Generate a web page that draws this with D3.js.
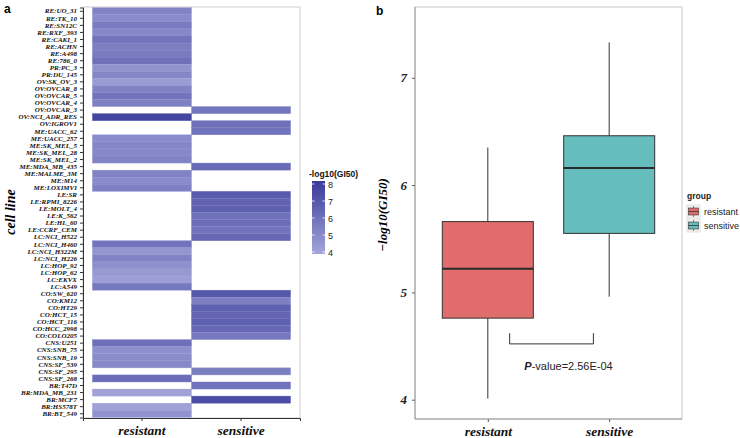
<!DOCTYPE html>
<html><head><meta charset="utf-8">
<script src="https://cdn.jsdelivr.net/npm/d3@7"></script>
<style>body{margin:0;background:#fff}svg{display:block}</style>
</head><body>
<svg id="c" width="740" height="438"></svg>
<script>
// ---------- data ----------
const cellLines = ["RE:UO_31","RE:TK_10","RE:SN12C","RE:RXF_393","RE:CAKI_1","RE:ACHN","RE:A498","RE:786_0","PR:PC_3","PR:DU_145","OV:SK_OV_3","OV:OVCAR_8","OV:OVCAR_5","OV:OVCAR_4","OV:OVCAR_3","OV:NCI_ADR_RES","OV:IGROV1","ME:UACC_62","ME:UACC_257","ME:SK_MEL_5","ME:SK_MEL_28","ME:SK_MEL_2","ME:MDA_MB_435","ME:MALME_3M","ME:M14","ME:LOXIMVI","LE:SR","LE:RPMI_8226","LE:MOLT_4","LE:K_562","LE:HL_60","LE:CCRF_CEM","LC:NCI_H522","LC:NCI_H460","LC:NCI_H322M","LC:NCI_H226","LC:HOP_92","LC:HOP_62","LC:EKVX","LC:A549","CO:SW_620","CO:KM12","CO:HT29","CO:HCT_15","CO:HCT_116","CO:HCC_2998","CO:COLO205","CNS:U251","CNS:SNB_75","CNS:SNB_19","CNS:SF_539","CNS:SF_295","CNS:SF_268","BR:T47D","BR:MDA_MB_231","BR:MCF7","BR:HS578T","BR:BT_549"];
const cellGroup = ["resistant","resistant","resistant","resistant","resistant","resistant","resistant","resistant","resistant","resistant","resistant","resistant","resistant","resistant","sensitive","resistant","sensitive","sensitive","resistant","resistant","resistant","resistant","sensitive","resistant","resistant","resistant","sensitive","sensitive","sensitive","sensitive","sensitive","sensitive","sensitive","resistant","resistant","resistant","resistant","resistant","resistant","resistant","sensitive","sensitive","sensitive","sensitive","sensitive","sensitive","sensitive","resistant","resistant","resistant","resistant","sensitive","resistant","sensitive","resistant","sensitive","resistant","resistant"];
const cellValue = [5.3,5.0,5.6,5.1,5.9,5.5,5.6,6.0,4.7,5.2,4.4,5.3,5.9,5.4,5.8,7.6,6.0,5.9,5.0,5.2,5.1,5.3,6.2,5.3,5.0,5.4,6.8,6.5,6.6,6.0,6.1,5.9,6.3,5.9,4.6,5.3,4.8,4.5,4.3,5.7,6.9,5.4,6.6,6.4,6.6,6.3,5.7,6.0,4.8,5.0,5.1,5.5,6.1,5.9,4.2,7.3,4.2,4.7];
const groups = ["resistant","sensitive"];
const legendTicks = [4,5,6,7,8];
// box plot statistics (-log10 GI50)
const boxLow    = [4.01, 4.96];
const boxQ1     = [4.76, 5.55];
const boxMedian = [5.22, 6.16];
const boxQ3     = [5.66, 6.46];
const boxHigh   = [6.35, 7.33];
const boxTicks = [4,5,6,7];
const groupColors = ["#E06C6B","#65BDBD"];
const pValueText = "-value=2.56E-04";

// ---------- drawing ----------
const svg = d3.select("#c");
const serif = "'Liberation Serif','Times New Roman',serif";
const sans = "'Liberation Sans',Arial,sans-serif";

// Panel a
const aL = 83, aR = 300, aT = 7, aB = 418;
const y = d3.scaleBand().domain(cellLines).range([aT+0.5, aB-0.5]).paddingInner(0).paddingOuter(0.03);
const x = d3.scaleBand().domain(groups).range([aL, aR]).paddingOuter(0.095).paddingInner(0);
const color = d3.scaleLinear().domain([4,8]).range(["#a4a6da","#383a9a"]).clamp(true);

svg.append("text").attr("x",4).attr("y",13).attr("font-family",sans).attr("font-weight","bold").attr("font-size",12).text("a");

svg.append("rect").attr("x",aL).attr("y",aT).attr("width",aR-aL).attr("height",aB-aT).attr("fill","#fff").attr("stroke","#cfcfcf").attr("stroke-width",1);

svg.append("g").selectAll("rect").data(cellLines).join("rect")
  .attr("x",(d,i)=>x(cellGroup[i]))
  .attr("y",d=>y(d))
  .attr("width",x.bandwidth())
  .attr("height",y.bandwidth())
  .attr("fill",(d,i)=>color(cellValue[i]))
  .attr("stroke",(d,i)=>color(cellValue[i]-0.6)).attr("stroke-width",0.4);

const ay = svg.append("g").attr("transform",`translate(${aL},0)`).call(d3.axisLeft(y).tickSize(3).tickPadding(3));
ay.select(".domain").attr("stroke","#333");
ay.selectAll(".tick line").attr("stroke","#333");
ay.selectAll("text").attr("font-family",serif).attr("font-weight","bold").attr("font-style","italic").attr("font-size",7).attr("fill","#111");
const ax = svg.append("g").attr("transform",`translate(0,${aB})`).call(d3.axisBottom(x).tickSize(3).tickPadding(4));
ax.select(".domain").attr("stroke","#333");
ax.selectAll(".tick line").attr("stroke","#333");
ax.selectAll("text").attr("font-family",serif).attr("font-weight","bold").attr("font-style","italic").attr("font-size",13.5).attr("fill","#111");
svg.append("text").attr("transform","translate(15,212) rotate(-90)").attr("text-anchor","middle")
  .attr("font-family",serif).attr("font-weight","bold").attr("font-style","italic").attr("font-size",14).text("cell line");

// colour legend
const lgX = 312, lgTop = 181, lgBot = 254, lgW = 13;
svg.append("text").attr("x",309).attr("y",177).attr("font-family",sans).attr("font-weight","bold").attr("font-size",8.5).attr("fill","#111").text("-log10(GI50)");
const defs = svg.append("defs");
const grad = defs.append("linearGradient").attr("id","lg").attr("x1",0).attr("y1",1).attr("x2",0).attr("y2",0);
grad.selectAll("stop").data(d3.range(0,1.01,0.1)).join("stop").attr("offset",d=>d).attr("stop-color",d=>color(4+4*d));
const ly = d3.scaleLinear().domain([4,8]).range([lgBot-2,lgTop+3]);
svg.append("rect").attr("x",lgX).attr("y",lgTop).attr("width",lgW).attr("height",lgBot-lgTop).attr("fill","url(#lg)");
const lg = svg.append("g");
lg.selectAll("line.l").data(legendTicks).join("line").attr("x1",lgX).attr("x2",lgX+2.5).attr("y1",d=>ly(d)).attr("y2",d=>ly(d)).attr("stroke","#fff").attr("stroke-width",0.8);
lg.selectAll("line.r").data(legendTicks).join("line").attr("x1",lgX+lgW-2.5).attr("x2",lgX+lgW).attr("y1",d=>ly(d)).attr("y2",d=>ly(d)).attr("stroke","#fff").attr("stroke-width",0.8);
lg.selectAll("text").data(legendTicks).join("text").attr("x",lgX+lgW+3).attr("y",d=>ly(d)+3.5).attr("font-family",sans).attr("font-size",9).attr("fill","#222").text(d=>d);

// Panel b
const bL = 415, bR = 682, bT = 7, bB = 419;
svg.append("text").attr("x",376).attr("y",15).attr("font-family",sans).attr("font-weight","bold").attr("font-size",12).text("b");
svg.append("rect").attr("x",bL).attr("y",bT).attr("width",bR-bL).attr("height",bB-bT).attr("fill","#fff").attr("stroke","#c8c8c8").attr("stroke-width",1);
const by = d3.scaleLinear().domain([3.82,7.66]).range([bB,bT]);
// ggplot-style discrete placement: centres at 1,2 with range [0.4,2.6]
const bxl = d3.scaleLinear().domain([0.4,2.6]).range([bL,bR]);
const cx = i => bxl(i+1);
const half = (bxl(1.375)-bxl(1));

const boxes = svg.append("g");
groups.forEach((g,i)=>{
  boxes.append("line").attr("x1",cx(i)).attr("x2",cx(i)).attr("y1",by(boxLow[i])).attr("y2",by(boxQ1[i])).attr("stroke","#333").attr("stroke-width",1);
  boxes.append("line").attr("x1",cx(i)).attr("x2",cx(i)).attr("y1",by(boxHigh[i])).attr("y2",by(boxQ3[i])).attr("stroke","#333").attr("stroke-width",1);
  boxes.append("rect").attr("x",cx(i)-half).attr("width",2*half).attr("y",by(boxQ3[i])).attr("height",by(boxQ1[i])-by(boxQ3[i]))
    .attr("fill",groupColors[i]).attr("stroke","#333").attr("stroke-width",1);
  boxes.append("line").attr("x1",cx(i)-half).attr("x2",cx(i)+half).attr("y1",by(boxMedian[i])).attr("y2",by(boxMedian[i])).attr("stroke","#2a2a2a").attr("stroke-width",2);
});

const byAxis = svg.append("g").attr("transform",`translate(${bL},0)`).call(d3.axisLeft(by).tickValues(boxTicks).tickFormat(d3.format("d")).tickSize(3).tickPadding(5));
byAxis.select(".domain").remove();
byAxis.selectAll(".tick line").attr("stroke","#555");
byAxis.selectAll("text").attr("font-family",serif).attr("font-weight","bold").attr("font-style","italic").attr("font-size",13).attr("fill","#222");
const bxAxis = svg.append("g").attr("transform",`translate(0,${bB})`).call(d3.axisBottom(d3.scaleOrdinal().domain(groups).range(groups.map((g,i)=>cx(i)))).tickSize(3).tickPadding(4));
bxAxis.select(".domain").remove();
bxAxis.selectAll(".tick line").attr("stroke","#555");
bxAxis.selectAll("text").attr("font-family",serif).attr("font-weight","bold").attr("font-style","italic").attr("font-size",13.5).attr("fill","#111");
svg.append("line").attr("x1",bL).attr("x2",bL).attr("y1",bT).attr("y2",bB).attr("stroke","#999");
svg.append("line").attr("x1",bL).attr("x2",bR).attr("y1",bB).attr("y2",bB).attr("stroke","#999");
svg.append("text").attr("transform","translate(387,215) rotate(-90)").attr("text-anchor","middle")
  .attr("font-family",serif).attr("font-weight","bold").attr("font-style","italic").attr("font-size",13).text("\u2212log10(GI50)");

// p-value bracket
const brL = bxl(1.18), brR = bxl(1.87), brY = by(4.52), brT = by(4.62);
svg.append("path").attr("d",`M${brL},${brT}V${brY}H${brR}V${brT}`).attr("fill","none").attr("stroke","#333").attr("stroke-width",1);
const pt = svg.append("text").attr("x",(brL+brR)/2+17).attr("y",by(4.28)).attr("text-anchor","middle").attr("font-family",sans).attr("font-size",11).attr("fill","#222");
pt.append("tspan").attr("font-style","italic").attr("font-weight","bold").text("P");
pt.append("tspan").text(pValueText);

// group legend
svg.append("text").attr("x",687).attr("y",199).attr("font-family",sans).attr("font-weight","bold").attr("font-size",8.5).attr("fill","#222").text("group");
const gl = svg.append("g");
groups.forEach((g,i)=>{
  const ky = 205 + i*14;
  gl.append("rect").attr("x",687).attr("y",ky).attr("width",13).attr("height",13).attr("fill","#f2f2f2").attr("stroke","#e0e0e0");
  gl.append("line").attr("x1",693.5).attr("x2",693.5).attr("y1",ky+1).attr("y2",ky+12).attr("stroke","#333").attr("stroke-width",0.6);
  gl.append("rect").attr("x",688.5).attr("y",ky+3).attr("width",10).attr("height",7).attr("fill",groupColors[i]).attr("stroke","#333").attr("stroke-width",0.6);
  gl.append("line").attr("x1",688.5).attr("x2",698.5).attr("y1",ky+6.5).attr("y2",ky+6.5).attr("stroke","#333").attr("stroke-width",0.8);
  gl.append("text").attr("x",704).attr("y",ky+9.5).attr("font-family",sans).attr("font-size",9).attr("fill","#222").text(g);
});
</script>
</body></html>
